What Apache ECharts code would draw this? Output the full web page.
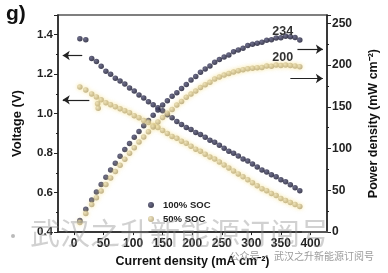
<!DOCTYPE html>
<html><head><meta charset="utf-8">
<script src="https://cdn.jsdelivr.net/npm/echarts@6/dist/echarts.min.js"></script>
<style>html,body{margin:0;padding:0;background:#fff}#c{width:388px;height:273px}</style>
</head><body><div id="c"></div>
<script>
// Current density (mA cm^-2)
const currentDensity = [10,20,30,38,46,54,62,70,78,86,94,102,110,118,126,134,142,150,158,166,174,182,190,198,206,214,222,230,238,246,254,262,270,278,286,294,302,310,318,326,334,342,350,358,366,374,382];
// 100% SOC
const voltage100 = [1.38,1.375,1.28,1.265,1.24,1.215,1.20,1.18,1.165,1.15,1.13,1.115,1.095,1.08,1.06,1.045,1.03,1.015,0.995,0.98,0.96,0.945,0.93,0.92,0.905,0.895,0.88,0.865,0.855,0.84,0.825,0.81,0.80,0.785,0.77,0.76,0.745,0.73,0.715,0.705,0.69,0.68,0.665,0.655,0.64,0.625,0.61];
const power100 = [13.8,27.5,38.4,48,57,65.6,74.4,82.6,90.9,98.9,106.2,113.7,120.5,127.4,133.6,140,146.3,152.3,157.2,162.7,167,172,176.7,182.2,186.4,191.5,195.4,199,203.5,206.6,209.6,212.2,216,218.2,220.2,223.4,225,226.3,227.4,229.8,230.5,232.6,232.8,234.5,234,233,230];
// 50% SOC
const voltage50 = [1.135,1.12,1.10,1.085,1.07,1.055,1.045,1.035,1.025,1.015,1.005,0.99,0.98,0.965,0.955,0.94,0.93,0.915,0.90,0.885,0.875,0.86,0.85,0.835,0.82,0.81,0.795,0.78,0.77,0.755,0.74,0.725,0.71,0.695,0.68,0.665,0.65,0.635,0.62,0.61,0.595,0.585,0.57,0.56,0.55,0.54,0.53];
const power50 = [11.4,22.4,33,41.2,49.2,57,64.8,72.5,80,87.3,94.5,101,107.8,113.9,120.3,126,132,137.3,142.2,146.9,152.3,156.5,161.5,165.3,168.9,173.3,176.5,179.4,183.3,185.7,188,190,191.7,193.2,194.5,195.5,196.3,196.9,197.2,198.9,198.7,200,199.5,200,199.5,199,198];
const extraCurrent50 = [40,41];
const extraVoltage50 = [1.05,1.027];
// ticks
const xTicks = [0,50,100,150,200,250,300,350,400];
const peakLabels = ['234','200'];

const FONT = 'Arial, "Liberation Sans", sans-serif';
const zip = (a,b) => a.map((v,i)=>[v,b[i]]);

const darkStyle = {color:{type:'radial',x:0.35,y:0.35,r:0.7,colorStops:[{offset:0,color:'#4a4a70'},{offset:1,color:'#101026'}]}};
const tanStyle = {color:{type:'radial',x:0.35,y:0.35,r:0.7,colorStops:[{offset:0,color:'#ece0b4'},{offset:1,color:'#ad9c6e'}]},shadowColor:'rgba(245,222,130,0.95)',shadowBlur:4};

const arrowLine = {silent:true,symbol:['none','arrow'],symbolSize:7,label:{show:false},lineStyle:{color:'#222',width:1.2,type:'solid'},emphasis:{disabled:true}};

const chart = echarts.init(document.getElementById('c'),null,{renderer:'canvas'});
chart.setOption({
  animation:false,
  textStyle:{fontFamily:FONT},
  grid:{left:58,right:56,top:15,bottom:39,show:true,borderColor:'#555',borderWidth:1.5},
  legend:{
    orient:'vertical',left:143,top:195,itemGap:4,itemWidth:6,itemHeight:6,icon:'circle',
    data:['100% SOC','50% SOC'],
    textStyle:{fontFamily:FONT,fontSize:9.5,fontWeight:'bold',color:'#222',padding:[0,0,0,4]}
  },
  xAxis:{
    type:'value',min:-27,max:428,
    name:'Current density (mA cm⁻²)',nameLocation:'middle',nameGap:22,
    nameTextStyle:{fontFamily:FONT,fontSize:12.5,fontWeight:'bold',color:'#111'},
    axisLine:{onZero:false,lineStyle:{color:'#222',width:1.5}},
    axisTick:{customValues:xTicks,length:3,lineStyle:{color:'#222'}},
    axisLabel:{customValues:xTicks,fontFamily:FONT,fontSize:12,fontWeight:'bold',color:'#222',margin:6},
    splitLine:{show:false}
  },
  yAxis:[{
    type:'value',min:0.4,max:1.5,interval:0.2,
    name:'Voltage (V)',nameLocation:'middle',nameGap:34,nameRotate:90,
    nameTextStyle:{fontFamily:FONT,fontSize:13,fontWeight:'bold',color:'#111'},
    axisLine:{show:true,onZero:false,lineStyle:{color:'#222',width:1.5}},
    axisTick:{show:true,length:4,lineStyle:{color:'#222'}},
    minorTick:{show:true,splitNumber:2,length:2,lineStyle:{color:'#222'}},
    axisLabel:{fontFamily:FONT,fontSize:11.5,fontWeight:'bold',color:'#222',margin:5,
      formatter:v=>Math.abs(v-1.5)<1e-6?'':v.toFixed(1)},
    splitLine:{show:false}
  },{
    type:'value',min:0,max:260,interval:50,position:'right',
    name:'Power density (mW cm⁻²)',nameLocation:'middle',nameGap:40,nameRotate:90,
    nameTextStyle:{fontFamily:FONT,fontSize:12.5,fontWeight:'bold',color:'#111'},
    axisLine:{show:true,onZero:false,lineStyle:{color:'#222',width:1.5}},
    axisTick:{show:true,length:4,lineStyle:{color:'#222'}},
    minorTick:{show:true,splitNumber:2,length:2,lineStyle:{color:'#222'}},
    axisLabel:{fontFamily:FONT,fontSize:12,fontWeight:'bold',color:'#222',margin:5,
      formatter:v=>v>255?'':String(v)},
    splitLine:{show:false}
  }],
  series:[
    {name:'100% SOC',type:'scatter',yAxisIndex:0,symbolSize:5.5,data:zip(currentDensity,voltage100),itemStyle:darkStyle,
      markLine:Object.assign({data:[[{coord:[14,1.295]},{coord:[-19,1.295]}],[{coord:[26,1.07]},{coord:[-19,1.07]}]]},arrowLine)},
    {name:'100% SOC',type:'scatter',yAxisIndex:1,symbolSize:5.5,data:zip(currentDensity,power100),itemStyle:darkStyle,
      markLine:Object.assign({data:[[{coord:[378,219]},{coord:[421,219]}],[{coord:[366,184]},{coord:[421,184]}]]},arrowLine),
      markPoint:{silent:true,symbol:'rect',symbolSize:1,itemStyle:{color:'rgba(0,0,0,0)'},
        label:{show:true,position:'inside',formatter:p=>p.name,fontFamily:FONT,fontSize:12.5,fontWeight:'bold',color:'#333'},
        data:[{name:peakLabels[0],coord:[353,240.6]},{name:peakLabels[1],coord:[353,208.7]}]}},
    {name:'50% SOC',type:'scatter',yAxisIndex:0,symbolSize:5.5,data:zip(currentDensity,voltage50).concat(zip(extraCurrent50,extraVoltage50)),itemStyle:tanStyle},
    {name:'50% SOC',type:'scatter',yAxisIndex:1,symbolSize:5.5,data:zip(currentDensity,power50),itemStyle:tanStyle}
  ],
  graphic:[
    {type:'text',left:6,top:4,style:{text:'g)',font:'bold 21px '+FONT,fill:'#111'}},
    {type:'text',left:30,top:218,z:100,silent:true,style:{text:'武汉之升新能源订阅号',font:'30px "Noto Sans CJK SC"',fill:'rgba(140,140,140,0.4)'}},
    {type:'circle',shape:{cx:13,cy:236,r:2},style:{fill:'rgba(140,140,140,0.6)'},silent:true},
    {type:'text',right:14,top:251,z:100,silent:true,style:{text:'公众号 · 武汉之升新能源订阅号',font:'10px "Noto Sans CJK SC"',fill:'rgba(120,120,120,0.75)'}}
  ]
});
</script></body></html>
